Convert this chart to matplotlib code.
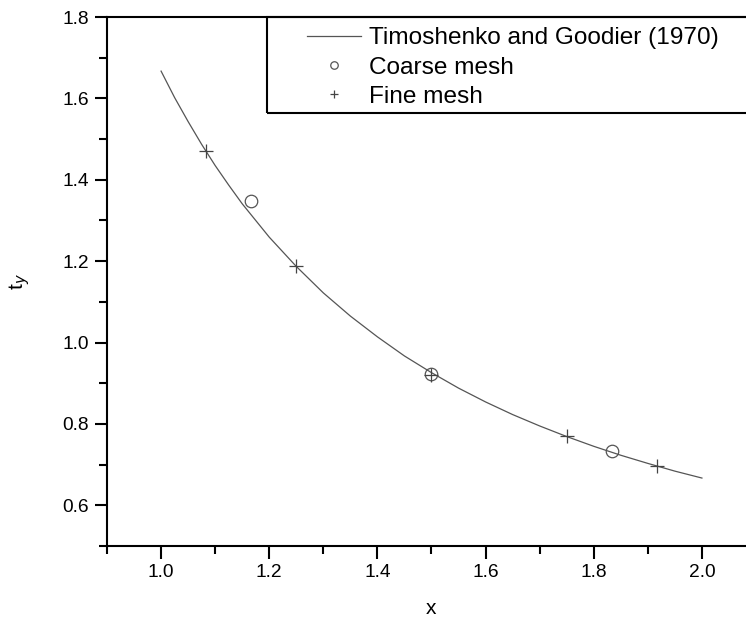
import matplotlib.pyplot as plt
from matplotlib.patches import Rectangle
from matplotlib.ticker import MultipleLocator

plt.rcParams['font.family'] = ['Liberation Sans', 'DejaVu Sans']

# Timoshenko and Goodier (1970) curve
x_exact = [1.000, 1.025, 1.050, 1.075, 1.100, 1.125, 1.150, 1.200, 1.250, 1.300, 1.350,
           1.400, 1.450, 1.500, 1.550, 1.600, 1.650, 1.700, 1.750, 1.800, 1.850,
           1.900, 1.950, 2.000]
t_exact = [1.667, 1.602, 1.543, 1.487, 1.435, 1.387, 1.341, 1.259, 1.187, 1.122, 1.065,
           1.014, 0.967, 0.926, 0.888, 0.854, 0.823, 0.795, 0.769, 0.745, 0.723,
           0.703, 0.684, 0.667]

# coarse mesh results
x_coarse = [1.167, 1.500, 1.833]
t_coarse = [1.347, 0.922, 0.733]

# fine mesh results
x_fine = [1.083, 1.250, 1.500, 1.750, 1.917]
t_fine = [1.471, 1.188, 0.920, 0.770, 0.696]

fig = plt.figure(figsize=(7.46, 6.21), dpi=100)
ax = fig.add_axes([107 / 746, 1 - 546 / 621, 649 / 746, 529 / 621])

ax.plot(x_exact, t_exact, color='#555555', lw=0.9, label='Timoshenko and Goodier (1970)')
ax.plot(x_coarse, t_coarse, ls='none', marker='o', ms=9, mfc='none', mec='#555555',
        mew=0.9, label='Coarse mesh')
ax.plot(x_fine, t_fine, ls='none', marker='+', ms=10, color='#444444', mew=0.9,
        label='Fine mesh')

ax.set_xlim(0.9, 2.1)
ax.set_ylim(0.5, 1.8)
ax.xaxis.set_minor_locator(MultipleLocator(0.1))
ax.yaxis.set_minor_locator(MultipleLocator(0.1))
ax.set_xticks([1.0, 1.2, 1.4, 1.6, 1.8, 2.0])
ax.set_xticklabels(['1.0', '1.2', '1.4', '1.6', '1.8', '2.0'])
ax.set_yticks([0.6, 0.8, 1.0, 1.2, 1.4, 1.6, 1.8])
ax.tick_params(which='major', direction='out', length=9, width=1.5, labelsize=13.8, pad=4)
ax.tick_params(which='minor', direction='out', length=6, width=1.5)
for s in ax.spines.values():
    s.set_linewidth(1.5)

ax.set_xlabel('x', fontsize=15, labelpad=13)
ax.set_ylabel('t$_y$', fontsize=15, labelpad=22)

# legend frame
ax.add_patch(Rectangle((267, 621 - 113), 520, 96, transform=None, fill=False,
                       edgecolor='black', lw=1.5, clip_on=False))
ax.legend(loc='upper left', bbox_to_anchor=(307 / 746, 1 - 27 / 621),
          bbox_transform=fig.transFigure, frameon=False, fontsize=17.6,
          handlelength=2.2, handletextpad=0.35, labelspacing=0.3,
          borderpad=0, borderaxespad=0, markerscale=0.6)

fig.savefig('out.png', dpi=100)
